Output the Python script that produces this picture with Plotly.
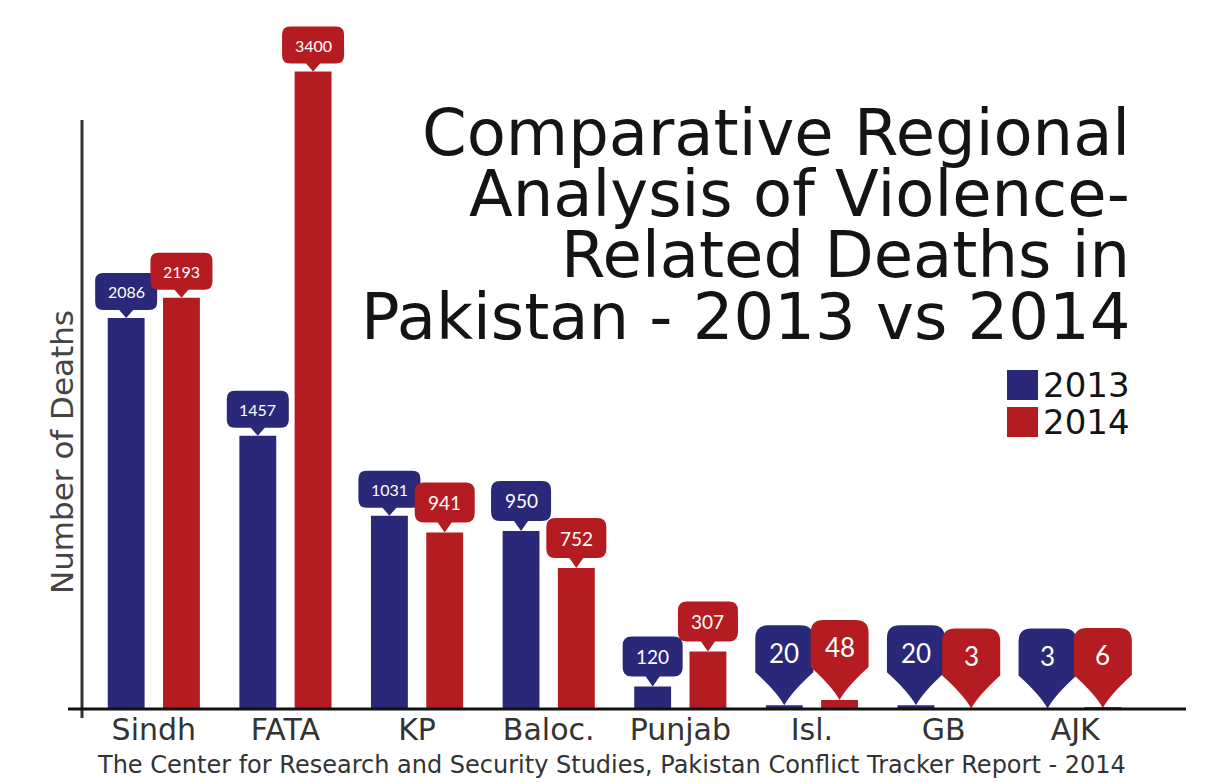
import plotly.graph_objects as go

# ---------------- data ----------------
categories = ["Sindh", "FATA", "KP", "Baloc.", "Punjab", "Isl.", "GB", "AJK"]
deaths_2013 = [2086, 1457, 1031, 950, 120, 20, 20, 3]
deaths_2014 = [2193, 3400, 941, 752, 307, 48, 3, 6]
series_names = ["2013", "2014"]

title_lines = ["Comparative Regional", "Analysis of Violence-",
               "Related Deaths in", "Pakistan - 2013 vs 2014"]
y_title = "Number of Deaths"
source_text = "The Center for Research and Security Studies, Pakistan Conflict Tracker Report - 2014"

# ---------------- style ----------------
NAVY = "#2a2878"
RED = "#b41c22"
FONT = "DejaVu Sans"
NUMFONT = "Lato"
PAGE_OFF = 8            # default body margin of the html page
W, H = 1209 - PAGE_OFF, 783 - PAGE_OFF
PLOT_X0, PLOT_X1 = 88, 1141   # plot area in page pixels
PLOT_Y0, PLOT_Y1 = 20, 709
L = PLOT_X0 - PAGE_OFF
T = PLOT_Y0 - PAGE_OFF
R = W - (PLOT_X1 - PAGE_OFF)
B = H - (PLOT_Y1 - PAGE_OFF)
PX_PER_UNIT = 0.1875
YMAX = (PLOT_Y1 - PLOT_Y0) / PX_PER_UNIT
BAR_W = 0.28
OFFSETS = [-0.35, 0.07]
COLORS = [NAVY, RED]

xpos = list(range(len(categories)))


def px_x(p):
    return (p - PLOT_X0) / (PLOT_X1 - PLOT_X0)


def px_y(p):
    return (PLOT_Y1 - p) / (PLOT_Y1 - PLOT_Y0)


def bubble_style(v):
    if v < 100:
        return dict(kind="pin", w=58, h=61, tip=19, r=13, font=26)
    if v < 1000:
        return dict(kind="box", w=60, h=40, tip=10, pw=7, r=9, font=19)
    return dict(kind="box", w=62, h=37, tip=8, pw=7, r=8, font=16)


def bubble_path(s):
    w2 = s["w"] / 2
    tip = s["tip"]
    top = tip + s["h"]
    r = s["r"]
    if s["kind"] == "box":
        pw = s["pw"]
        return (f"M 0,0 L {-pw},{tip} L {-w2 + r},{tip} Q {-w2},{tip} {-w2},{tip + r} "
                f"L {-w2},{top - r} Q {-w2},{top} {-w2 + r},{top} "
                f"L {w2 - r},{top} Q {w2},{top} {w2},{top - r} "
                f"L {w2},{tip + r} Q {w2},{tip} {w2 - r},{tip} L {pw},{tip} Z")
    side = tip + 14
    return (f"M 0,0 Q {-w2 * 0.25},{tip * 0.7} {-w2},{side} "
            f"L {-w2},{top - r} Q {-w2},{top} {-w2 + r},{top} "
            f"L {w2 - r},{top} Q {w2},{top} {w2},{top - r} "
            f"L {w2},{side} Q {w2 * 0.25},{tip * 0.7} 0,0 Z")


fig = go.Figure()
series = [deaths_2013, deaths_2014]
for name, vals, color, off in zip(series_names, series, COLORS, OFFSETS):
    fig.add_trace(go.Bar(
        x=xpos, y=vals, name=name, width=BAR_W, offset=off,
        marker=dict(color=color, line=dict(width=0)),
        showlegend=False, hoverinfo="x+y",
    ))

shapes = []
annotations = []

# value bubbles (blue first, then red so red overlaps)
for i in xpos:
    for s_idx, vals in enumerate(series):
        v = vals[i]
        xc = i + OFFSETS[s_idx] + BAR_W / 2
        st = bubble_style(v)
        shapes.append(dict(
            type="path", xref="x", yref="y", xsizemode="pixel", ysizemode="pixel",
            xanchor=xc, yanchor=v, path=bubble_path(st),
            fillcolor=COLORS[s_idx], line=dict(width=0), layer="above",
        ))
        shift = st["tip"] + st["h"] * (0.55 if st["kind"] == "pin" else 0.5)
        annotations.append(dict(
            x=xc, y=v, xref="x", yref="y", yshift=shift, showarrow=False,
            text=f"{v}", font=dict(family=NUMFONT, size=st["font"], color="white"),
        ))

# axis lines
shapes.append(dict(type="line", xref="paper", yref="paper",
                   x0=px_x(82), x1=px_x(82), y0=px_y(120), y1=px_y(718),
                   line=dict(color="#333333", width=3)))
shapes.append(dict(type="line", xref="paper", yref="paper",
                   x0=px_x(68), x1=px_x(1186), y0=px_y(709), y1=px_y(709),
                   line=dict(color="#111111", width=3)))

# title lines
for line, yc in zip(title_lines, [133, 194, 255, 317]):
    annotations.append(dict(
        x=px_x(1132), y=px_y(yc), xref="paper", yref="paper",
        xanchor="right", yanchor="middle", showarrow=False, text=line,
        font=dict(family=FONT, size=64, color="#141414"),
    ))

# custom legend
for name, color, (ytop, ybot) in zip(series_names, COLORS, [(370, 400), (407, 437)]):
    shapes.append(dict(type="rect", xref="paper", yref="paper",
                       x0=px_x(1007), x1=px_x(1038), y0=px_y(ybot), y1=px_y(ytop),
                       fillcolor=color, line=dict(width=0)))
    annotations.append(dict(
        x=px_x(1041), y=px_y((ytop + ybot) / 2), xref="paper", yref="paper",
        xanchor="left", yanchor="middle", showarrow=False, text=name,
        font=dict(family=FONT, size=34, color="#141414"),
    ))

# y-axis title
annotations.append(dict(
    x=px_x(62), y=px_y(452), xref="paper", yref="paper", textangle=-90,
    xanchor="center", yanchor="middle", showarrow=False, text=y_title,
    font=dict(family=FONT, size=31, color="#444444"),
))

# source
annotations.append(dict(
    x=px_x(611), y=px_y(765), xref="paper", yref="paper",
    xanchor="center", yanchor="middle", showarrow=False, text=source_text,
    font=dict(family=FONT, size=24, color="#333333"),
))

fig.update_layout(
    width=W, height=H,
    margin=dict(l=L, r=R, t=T, b=B, pad=0),
    paper_bgcolor="white", plot_bgcolor="white",
    barmode="overlay",
    shapes=shapes, annotations=annotations,
    xaxis=dict(range=[-0.5, 7.5], tickvals=xpos, ticktext=categories,
               showgrid=False, zeroline=False, showline=False, ticks="",
               tickfont=dict(family=FONT, size=30, color="#333333")),
    yaxis=dict(range=[0, YMAX], visible=False, showgrid=False, zeroline=False),
    showlegend=False,
)

fig.write_html("out.html")
